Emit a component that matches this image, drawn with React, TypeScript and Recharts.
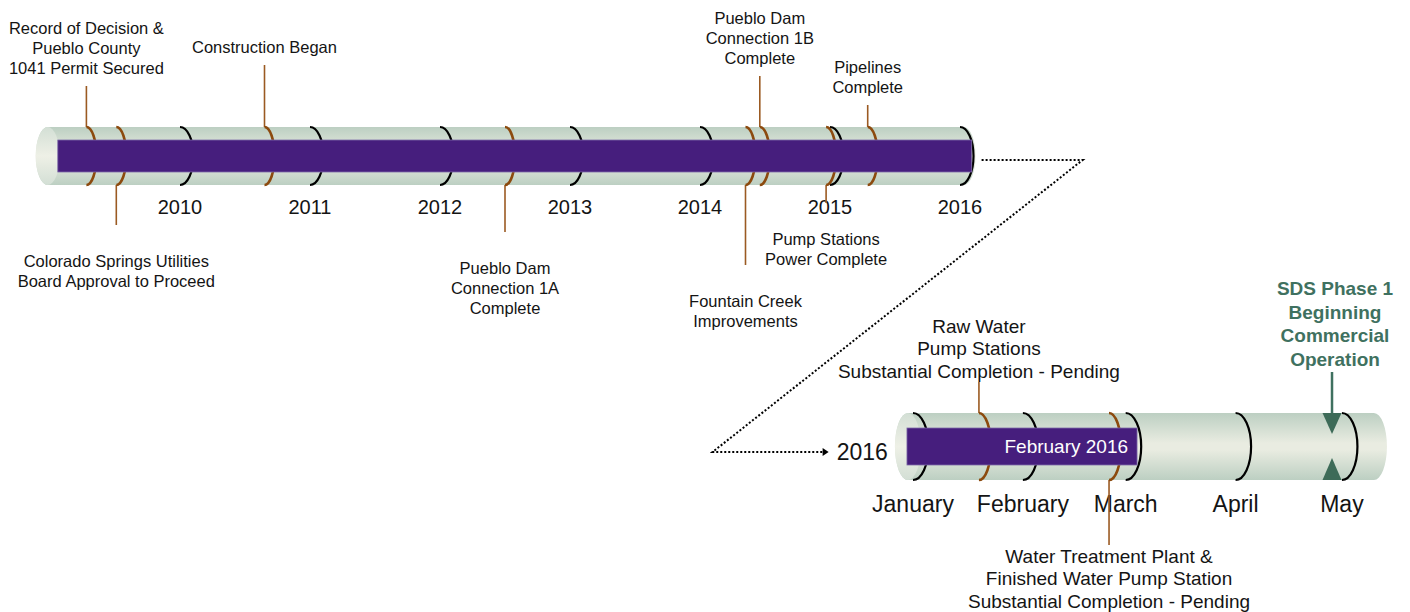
import React from 'react';
import { ComposedChart, XAxis, YAxis, ReferenceArea, ReferenceDot, Scatter } from 'recharts';

const W = 1410;
const H = 612;

// ---------------- DATA ----------------
// Overview timeline (decimal years)
const yearTicks = [2010, 2011, 2012, 2013, 2014, 2015, 2016];
const overviewStart = 2008.89;
const overviewEnd = 2016.12;
const programStart = 2009.06;
const programEnd = 2016.09;

const milestoneLabels: string[][] = [
  ['Record of Decision &', 'Pueblo County', '1041 Permit Secured'],
  ['Colorado Springs Utilities', 'Board Approval to Proceed'],
  ['Construction Began'],
  ['Pueblo Dam', 'Connection 1A', 'Complete'],
  ['Fountain Creek', 'Improvements'],
  ['Pueblo Dam', 'Connection 1B', 'Complete'],
  ['Pump Stations', 'Power Complete'],
  ['Pipelines', 'Complete'],
];
const milestoneDates = [2009.28, 2009.51, 2010.65, 2012.5, 2014.35, 2014.46, 2014.97, 2015.29];

// Detail timeline (day of year 2016)
const detailYearLabel = '2016';
const monthLabels = ['January', 'February', 'March', 'April', 'May'];
const monthStartDays = [0, 31, 60, 91, 121];
const detailStart = -5.1;
const detailEnd = 133.7;
const progressStart = -1.7;
const progressEnd = 63.2;
const progressLabel = 'February 2016';

const pendingLabels: string[][] = [
  ['Raw Water', 'Pump Stations', 'Substantial Completion - Pending'],
  ['Water Treatment Plant &', 'Finished Water Pump Station', 'Substantial Completion - Pending'],
];
const pendingDays = [18.6, 55.3];
const targetLabel = ['SDS Phase 1', 'Beginning', 'Commercial', 'Operation'];
const targetDay = 118.2;

// ---------------- LAYOUT / STYLE ----------------
const YEAR_DOMAIN: [number, number] = [2008.6154, 2019.4615];
const DAY_DOMAIN: [number, number] = [-257.55, 140.2];
const TOP = { top: 127, bottom: 185, center: 156, barTop: 140, barBottom: 172 };
const BOT = { top: 413, bottom: 480, center: 446.5, barTop: 428, barBottom: 465 };
const milestonePlacement = [
  { side: 'up', lead: 41 },
  { side: 'down', lead: 40 },
  { side: 'up', lead: 62 },
  { side: 'down', lead: 47 },
  { side: 'down', lead: 80 },
  { side: 'up', lead: 51 },
  { side: 'down', lead: 18 },
  { side: 'up', lead: 22 },
];
const pendingPlacement = [
  { side: 'up', lead: 31 },
  { side: 'down', lead: 65 },
];
const CONNECTOR = { gap: 6, run: 107, dropDx: -263, dropDy: 292, tipDx: -147 };

const FONT = '"Liberation Sans", Arial, Helvetica, sans-serif';
const PURPLE = '#461e7d';
const BROWN = '#8c4a0e';
const LEADER = '#9b5a22';
const GREEN = '#3f7160';
const TEXT = '#141414';

const arcPath = (cx: number, cy: number, rx: number, ry: number) =>
  `M${cx},${cy - ry} A${rx},${ry} 0 0 1 ${cx},${cy + ry}`;

function axes() {
  return [
    <XAxis key="xy" xAxisId="year" type="number" dataKey="t" domain={YEAR_DOMAIN} allowDataOverflow hide />,
    <XAxis key="xd" xAxisId="day" type="number" dataKey="t" domain={DAY_DOMAIN} allowDataOverflow hide />,
    <YAxis key="yv" yAxisId="v" type="number" dataKey="row" domain={[0, H]} reversed allowDataOverflow hide />,
  ];
}

function Layer({ children }: { children: React.ReactNode }) {
  return (
    <div style={{ position: 'absolute', left: 0, top: 0, width: W, height: H }}>
      <ComposedChart width={W} height={H} margin={{ top: 0, right: 0, bottom: 0, left: 0 }}>
        {axes()}
        {children}
      </ComposedChart>
    </div>
  );
}

const tubeShape = (id: string, capRx: number, yearLabel?: string) => (p: any) => {
  const { x, y, width, height } = p;
  const ry = height / 2;
  const d = `M${x + capRx},${y} L${x + width - capRx},${y} A${capRx},${ry} 0 0 1 ${x + width - capRx},${y + height} L${x + capRx},${y + height} A${capRx},${ry} 0 0 1 ${x + capRx},${y} Z`;
  return (
    <g>
      <defs>
        <linearGradient id={id} x1="0" y1="0" x2="0" y2="1">
          <stop offset="0" stopColor="#bccfc2" />
          <stop offset="0.45" stopColor="#e9ece1" />
          <stop offset="0.55" stopColor="#e9ece1" />
          <stop offset="1" stopColor="#bccfc2" />
        </linearGradient>
        <linearGradient id={id + 'cap'} x1="0" y1="0" x2="0" y2="1">
          <stop offset="0" stopColor="#d3dfd5" />
          <stop offset="0.5" stopColor="#eef0e6" />
          <stop offset="1" stopColor="#d3dfd5" />
        </linearGradient>
      </defs>
      <path d={d} fill={`url(#${id})`} />
      <ellipse cx={x + capRx} cy={y + ry} rx={capRx} ry={ry} fill={`url(#${id}cap)`} />
      {yearLabel ? (
        <text x={x - 7} y={y + ry + 5} textAnchor="end" dominantBaseline="central" fontFamily={FONT} fontSize={23} fill={TEXT}>
          {yearLabel}
        </text>
      ) : null}
    </g>
  );
};

const connectorShape = (p: any) => {
  const { cx, cy } = p;
  const sx = cx + CONNECTOR.gap;
  const ex = cx + CONNECTOR.run;
  const bx = cx + CONNECTOR.dropDx;
  const by = cy + CONNECTOR.dropDy;
  const tx = cx + CONNECTOR.tipDx;
  return (
    <g>
      <polyline
        points={`${sx},${cy} ${ex},${cy} ${bx},${by} ${tx - 5},${by}`}
        fill="none"
        stroke="#000"
        strokeWidth={2}
        strokeDasharray="2 2"
      />
      <path d={`M${tx - 6},${by - 4} L${tx},${by} L${tx - 6},${by + 4} Z`} fill="#000" />
    </g>
  );
};

const barShape = (label?: string) => (p: any) => {
  const { x, y, width, height } = p;
  return (
    <g>
      <rect x={x} y={y} width={width} height={height} fill={PURPLE} stroke="#7d6aa8" strokeWidth={0.8} />
      {label ? (
        <text x={x + width - 9} y={y + height / 2} textAnchor="end" dominantBaseline="central" fontFamily={FONT} fontSize={19} fill="#ffffff">
          {label}
        </text>
      ) : null}
    </g>
  );
};

const tickArcShape = (rx: number, ry: number, labelDy: number, fontSize: number) => (p: any) => {
  const { cx, cy, payload } = p;
  return (
    <g>
      <path d={arcPath(cx, cy, rx, ry)} fill="none" stroke="#000" strokeWidth={2.2} />
      <text x={cx} y={cy + ry + labelDy} textAnchor="middle" dominantBaseline="central" fontFamily={FONT} fontSize={fontSize} fill={TEXT}>
        {payload.label}
      </text>
    </g>
  );
};

const milestoneShape = (rx: number, ry: number, fontSize: number, lh: number, gapUp: number, gapDown: number) => (p: any) => {
  const { cx, cy, payload } = p;
  const lines: string[] = payload.lines;
  const n = lines.length;
  const up = payload.side === 'up';
  const edge = up ? cy - ry : cy + ry;
  const end = up ? edge - payload.lead : edge + payload.lead;
  return (
    <g>
      <line x1={cx} y1={edge} x2={cx} y2={end} stroke={LEADER} strokeWidth={1.6} />
      <path d={arcPath(cx, cy, rx, ry)} fill="none" stroke={BROWN} strokeWidth={2.6} />
      {lines.map((s, i) => (
        <text
          key={i}
          x={cx}
          y={up ? end - gapUp - (n - 1 - i) * lh : end + gapDown + i * lh}
          textAnchor="middle"
          dominantBaseline="central"
          fontFamily={FONT}
          fontSize={fontSize}
          fill={TEXT}
        >
          {s}
        </text>
      ))}
    </g>
  );
};

const targetShape = (ry: number) => (p: any) => {
  const { cx, cy, payload } = p;
  const top = cy - ry;
  const bottom = cy + ry;
  const lineTop = top - 41;
  const lines: string[] = payload.lines;
  const n = lines.length;
  return (
    <g>
      <line x1={cx} y1={lineTop} x2={cx} y2={top} stroke={GREEN} strokeWidth={2.5} />
      <path d={`M${cx - 9.5},${top} L${cx + 9.5},${top} L${cx},${top + 21} Z`} fill="#3d6b58" />
      <path d={`M${cx - 9.5},${bottom} L${cx + 9.5},${bottom} L${cx},${bottom - 22} Z`} fill="#3d6b58" />
      {lines.map((s, i) => (
        <text
          key={i}
          x={cx + 3}
          y={lineTop - 13 - (n - 1 - i) * 23.5}
          textAnchor="middle"
          dominantBaseline="central"
          fontFamily={FONT}
          fontWeight="bold"
          fontSize={19}
          fill={GREEN}
        >
          {s}
        </text>
      ))}
    </g>
  );
};

export default function App() {
  const yearData = yearTicks.map((t) => ({ t, row: TOP.center, label: String(t) }));
  const milestoneData = milestoneDates.map((t, i) => ({
    t,
    row: TOP.center,
    lines: milestoneLabels[i],
    ...milestonePlacement[i],
  }));
  const monthData = monthStartDays.map((t, i) => ({ t, row: BOT.center, label: monthLabels[i] }));
  const pendingData = pendingDays.map((t, i) => ({
    t,
    row: BOT.center,
    lines: pendingLabels[i],
    ...pendingPlacement[i],
  }));
  const targetData = [{ t: targetDay, row: BOT.center, lines: targetLabel }];
  const topRy = (TOP.bottom - TOP.top) / 2;
  const botRy = (BOT.bottom - BOT.top) / 2;

  return (
    <div style={{ position: 'absolute', left: 0, top: 0, width: W, height: H, background: '#fff' }}>
      {/* Layer 1: tubes & zoom connector */}
      <Layer>
        <ReferenceArea
          xAxisId="year"
          yAxisId="v"
          x1={overviewStart}
          x2={overviewEnd}
          y1={TOP.top}
          y2={TOP.bottom}
          ifOverflow="visible"
          shape={tubeShape('tubeTop', 12)}
        />
        <ReferenceArea
          xAxisId="day"
          yAxisId="v"
          x1={detailStart}
          x2={detailEnd}
          y1={BOT.top}
          y2={BOT.bottom}
          ifOverflow="visible"
          shape={tubeShape('tubeBot', 13, detailYearLabel)}
        />
        <ReferenceDot
          xAxisId="year"
          yAxisId="v"
          x={overviewEnd}
          y={TOP.center + 4}
          ifOverflow="visible"
          shape={connectorShape}
        />
      </Layer>
      {/* Layer 2: arcs, leaders, labels */}
      <Layer>
        <Scatter xAxisId="year" yAxisId="v" dataKey="row" data={yearData} isAnimationActive={false} shape={tickArcShape(13.5, topRy, 22, 20)} />
        <Scatter xAxisId="year" yAxisId="v" dataKey="row" data={milestoneData} isAnimationActive={false} shape={milestoneShape(10, topRy, 16.5, 20, 18, 36)} />
        <Scatter xAxisId="day" yAxisId="v" dataKey="row" data={monthData} isAnimationActive={false} shape={tickArcShape(15.5, botRy, 24, 23)} />
        <Scatter xAxisId="day" yAxisId="v" dataKey="row" data={pendingData} isAnimationActive={false} shape={milestoneShape(12, botRy, 19, 22.5, 11, 11)} />
      </Layer>
      {/* Layer 3: progress bars */}
      <Layer>
        <ReferenceArea
          xAxisId="year"
          yAxisId="v"
          x1={programStart}
          x2={programEnd}
          y1={TOP.barTop}
          y2={TOP.barBottom}
          ifOverflow="visible"
          shape={barShape()}
        />
        <ReferenceArea
          xAxisId="day"
          yAxisId="v"
          x1={progressStart}
          x2={progressEnd}
          y1={BOT.barTop}
          y2={BOT.barBottom}
          ifOverflow="visible"
          shape={barShape(progressLabel)}
        />
      </Layer>
      {/* Layer 4: commercial operation target */}
      <Layer>
        <Scatter xAxisId="day" yAxisId="v" dataKey="row" data={targetData} isAnimationActive={false} shape={targetShape(botRy)} />
      </Layer>
    </div>
  );
}
